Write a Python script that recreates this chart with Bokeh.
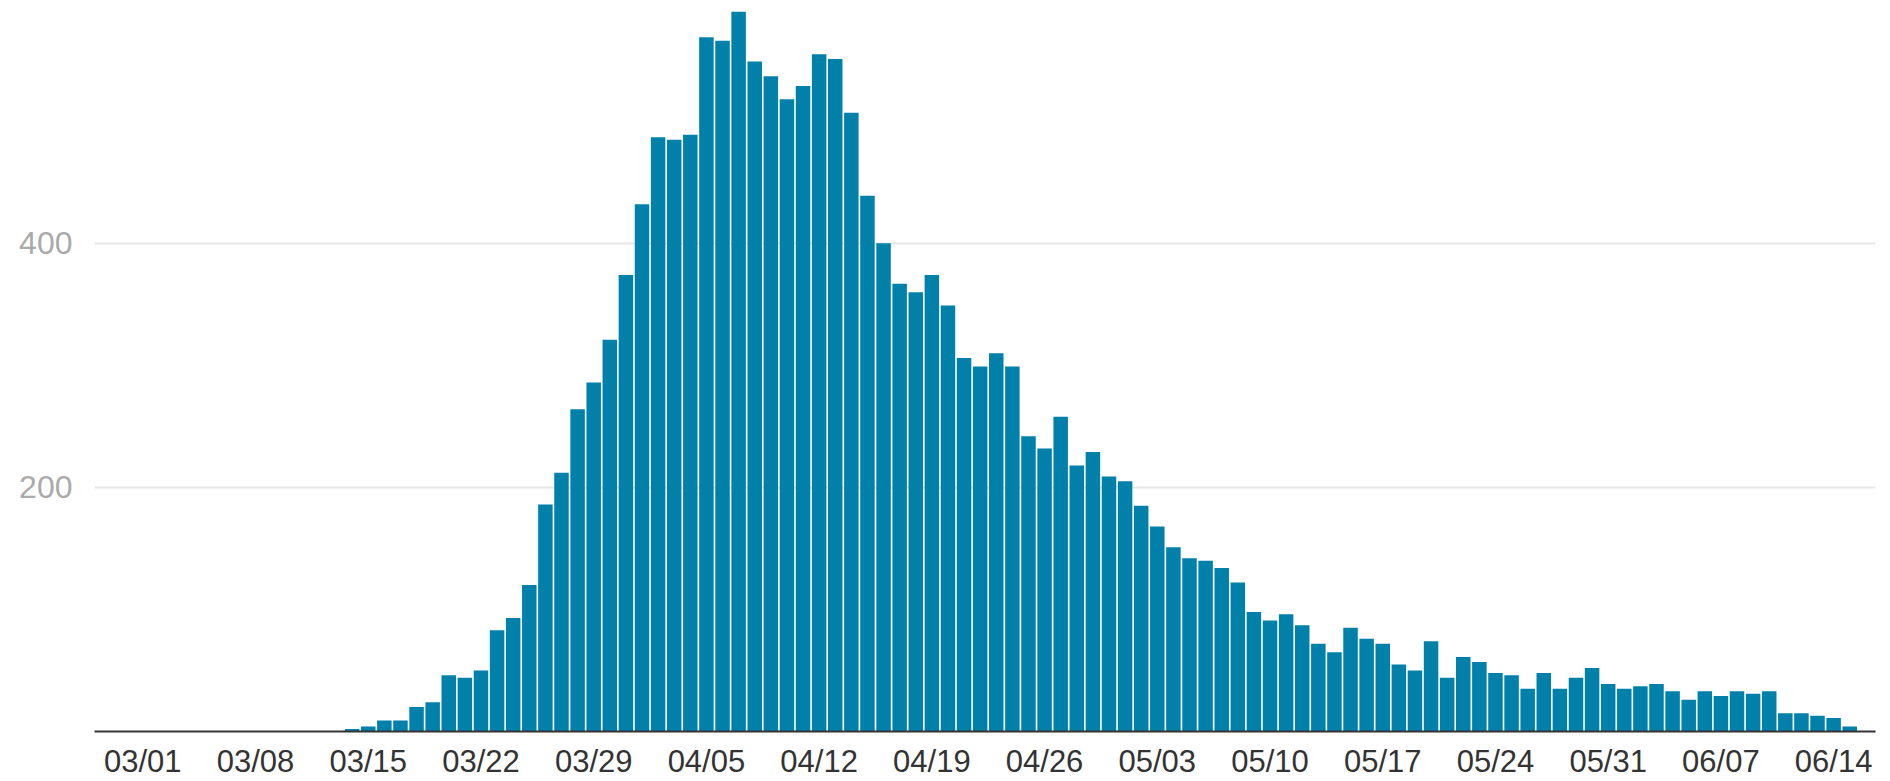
from bokeh.plotting import figure
from bokeh.models import Range1d, FixedTicker, ColumnDataSource
from bokeh.embed import file_html
from bokeh.resources import INLINE

# day index 0 = 03/01 ... 106 = 06/15
days = list(range(0, 107))
values = ([0] * 13 + [
    2, 4, 9, 9, 20, 24, 46, 44, 50, 83, 93, 120, 186, 212, 264, 286, 321, 374,       # 03/14 - 03/31
    432, 487, 485, 489, 569, 566, 590, 549, 537, 518, 529, 555, 551, 507, 439, 400,  # 04/01 - 04/16
    367, 360, 374, 349, 306, 299, 310, 299, 242, 232, 258, 218, 229, 209,            # 04/17 - 04/30
    205, 185, 168, 151, 142, 140, 134, 122, 98, 91, 96, 87, 72, 65, 85, 76, 72,       # 05/01 - 05/17
    55, 50, 74, 44, 61, 57, 48, 46, 35, 48, 35, 44, 52, 39,                          # 05/18 - 05/31
    35, 37, 39, 33, 26, 33, 29, 33, 31, 33, 15, 15, 13, 11, 4,                       # 06/01 - 06/15
])
tick_days = [0, 7, 14, 21, 28, 35, 42, 49, 56, 63, 70, 77, 84, 91, 98, 105]
tick_labels = ["03/01", "03/08", "03/15", "03/22", "03/29", "04/05", "04/12", "04/19",
               "04/26", "05/03", "05/10", "05/17", "05/24", "05/31", "06/07", "06/14"]
y_ticks = [200, 400]

src = ColumnDataSource(dict(d=days, v=values))

p = figure(width=1890, height=781, output_backend="svg", toolbar_location=None,
           x_range=Range1d(-3.0, 107.6), y_range=Range1d(0, 590),
           min_border_left=94, min_border_right=15, min_border_top=11, min_border_bottom=50)
p.outline_line_color = None
p.background_fill_color = "white"
p.border_fill_color = "white"

p.vbar(x="d", top="v", width=0.9, source=src, fill_color="#0180A9", line_color=None)

FONT = "Liberation Sans"
xa = p.xaxis[0]
xa.ticker = FixedTicker(ticks=tick_days)
xa.major_label_overrides = {d: lab for d, lab in zip(tick_days, tick_labels)}
xa.axis_line_color = "#333333"
xa.axis_line_width = 2
xa.major_tick_line_color = None
xa.minor_tick_line_color = None
xa.major_tick_out = 0
xa.major_label_standoff = 12
xa.major_label_text_font = FONT
xa.major_label_text_font_size = "31px"
xa.major_label_text_color = "#333333"

ya = p.yaxis[0]
ya.ticker = FixedTicker(ticks=y_ticks)
ya.axis_line_color = None
ya.major_tick_line_color = None
ya.minor_tick_line_color = None
ya.major_tick_out = 0
ya.major_label_standoff = 22
ya.major_label_text_font = FONT
ya.major_label_text_font_size = "32px"
ya.major_label_text_color = "#aaaaaa"

p.xgrid.grid_line_color = None
p.ygrid.grid_line_color = "#e6e6e6"
p.ygrid.grid_line_width = 2

open("out.html", "w").write(file_html(p, INLINE))
